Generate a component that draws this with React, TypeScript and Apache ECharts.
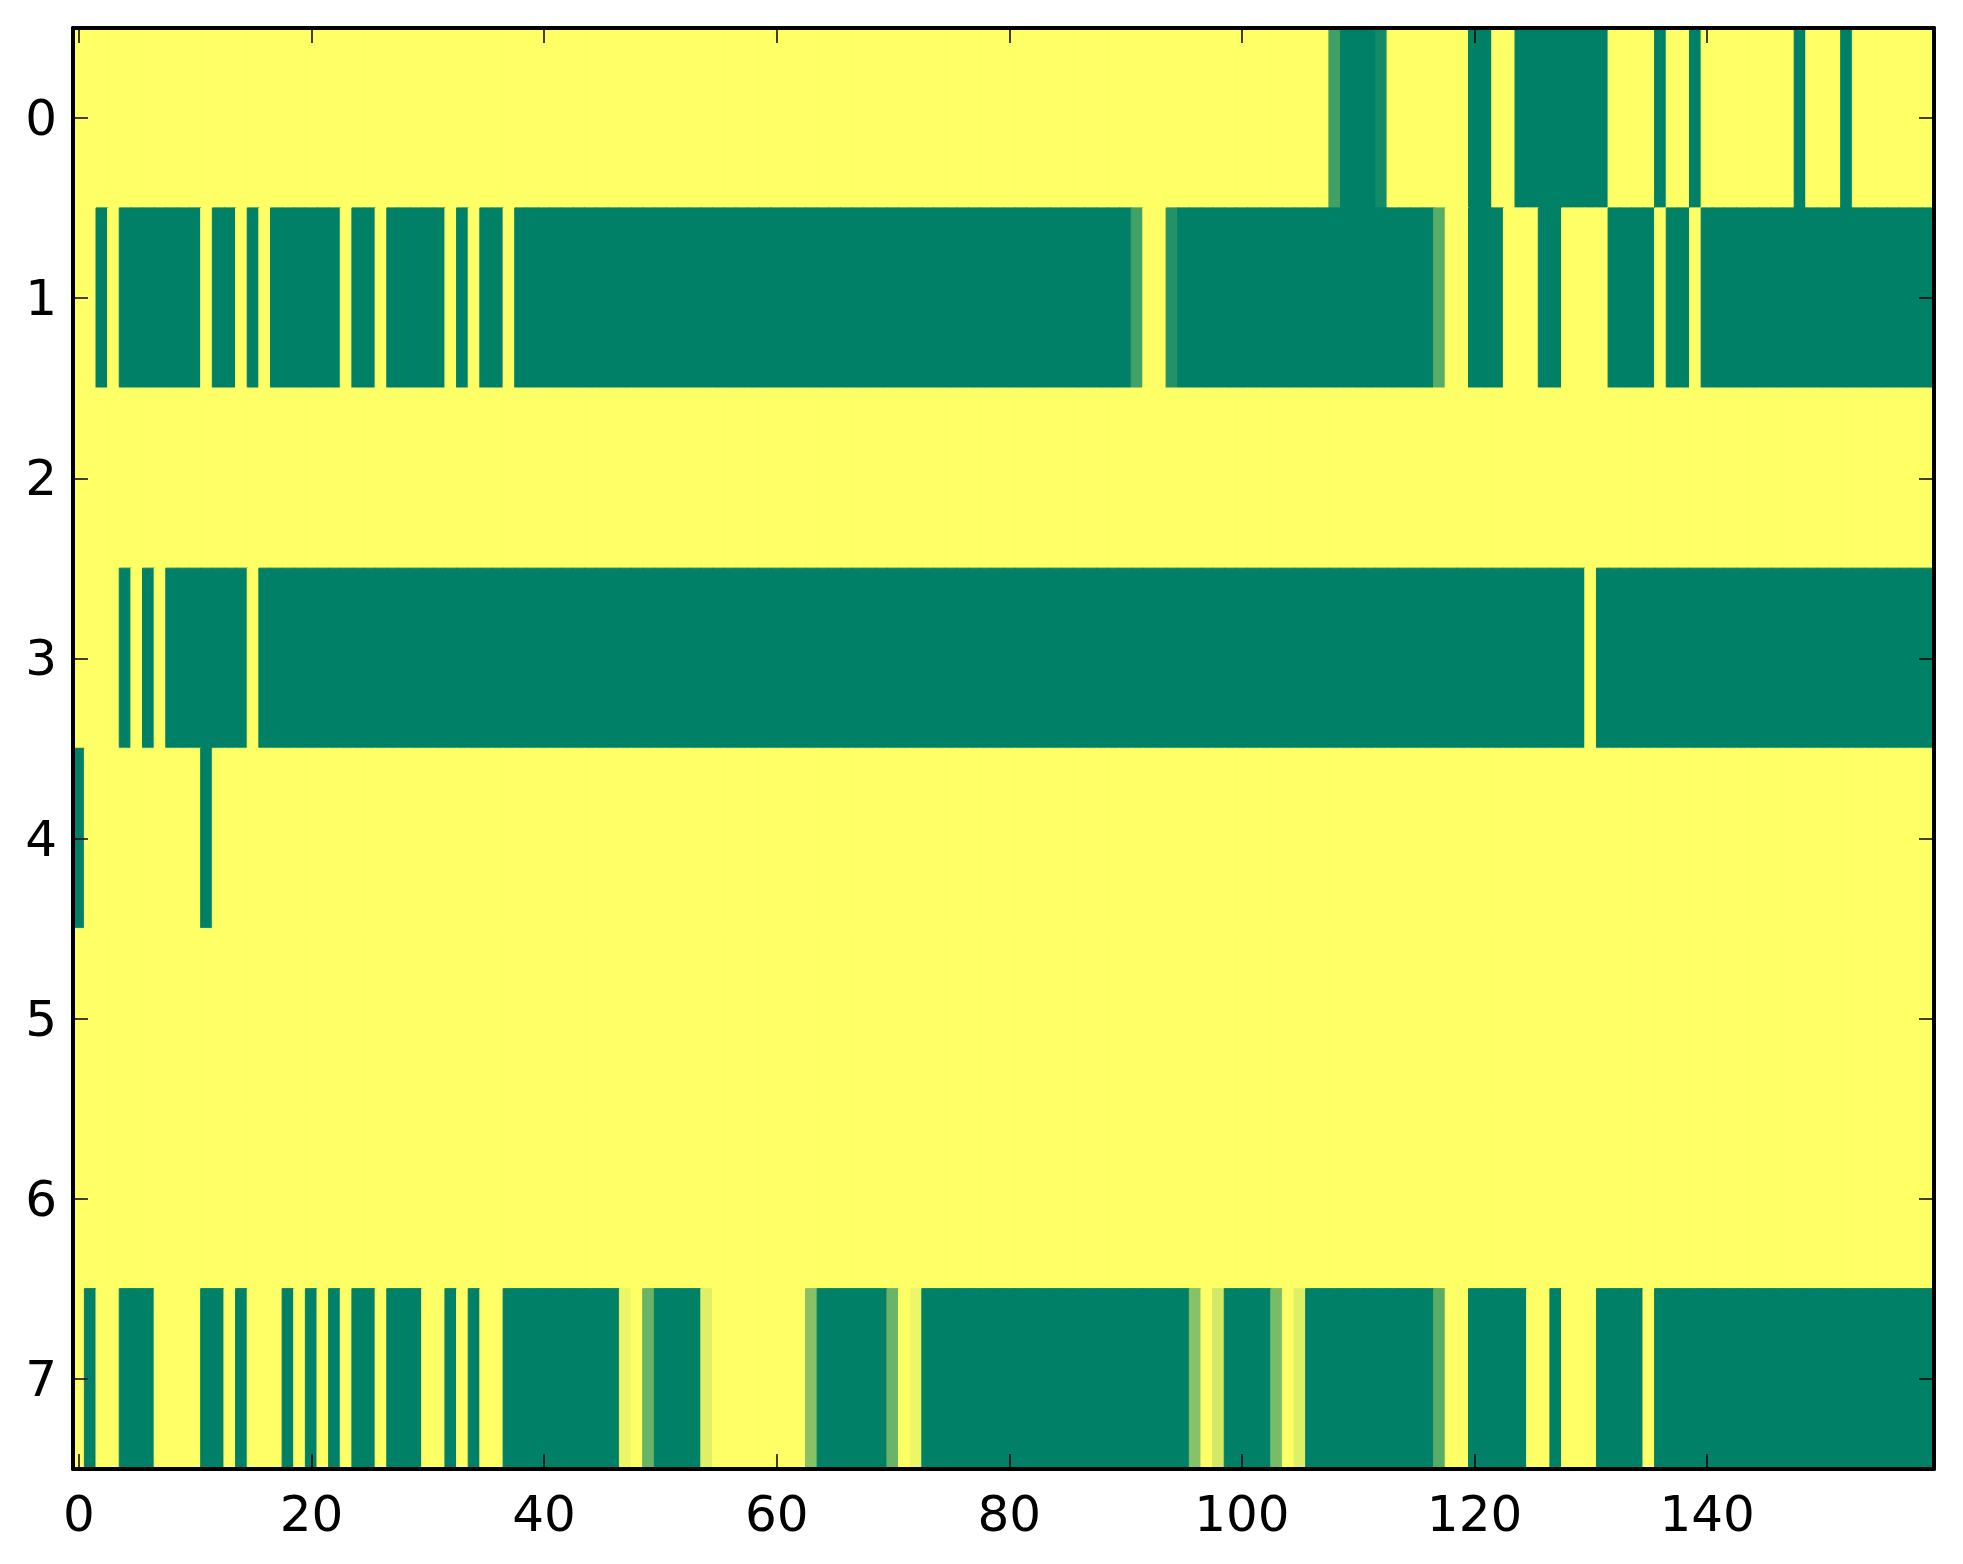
import React, { useEffect, useRef } from "react";
import * as echarts from "echarts";

// Column indices 0..159 and row indices 0..7
const columns: number[] = Array.from({ length: 160 }, (_, i) => i);
const rowLabels: string[] = ["0", "1", "2", "3", "4", "5", "6", "7"];
const xTickLabels: number[] = [0, 20, 40, 60, 80, 100, 120, 140];

const row0: number[] = [
  1, 1, 1, 1, 1, 1, 1, 1, 1, 1, 1, 1, 1, 1, 1, 1, 1, 1, 1, 1,
  1, 1, 1, 1, 1, 1, 1, 1, 1, 1, 1, 1, 1, 1, 1, 1, 1, 1, 1, 1,
  1, 1, 1, 1, 1, 1, 1, 1, 1, 1, 1, 1, 1, 1, 1, 1, 1, 1, 1, 1,
  1, 1, 1, 1, 1, 1, 1, 1, 1, 1, 1, 1, 1, 1, 1, 1, 1, 1, 1, 1,
  1, 1, 1, 1, 1, 1, 1, 1, 1, 1, 1, 1, 1, 1, 1, 1, 1, 1, 1, 1,
  1, 1, 1, 1, 1, 1, 1, 1, 0.25, 0, 0, 0, 0.08, 1, 1, 1, 1, 1, 1, 1,
  0, 0, 1, 1, 0, 0, 0, 0, 0, 0, 0, 0, 1, 1, 1, 1, 0, 1, 1, 0,
  1, 1, 1, 1, 1, 1, 1, 1, 0, 1, 1, 1, 0, 1, 1, 1, 1, 1, 1, 1,
];

const row1: number[] = [
  1, 1, 0, 1, 0, 0, 0, 0, 0, 0, 0, 1, 0, 0, 1, 0, 1, 0, 0, 0,
  0, 0, 0, 1, 0, 0, 1, 0, 0, 0, 0, 0, 1, 0, 1, 0, 0, 1, 0, 0,
  0, 0, 0, 0, 0, 0, 0, 0, 0, 0, 0, 0, 0, 0, 0, 0, 0, 0, 0, 0,
  0, 0, 0, 0, 0, 0, 0, 0, 0, 0, 0, 0, 0, 0, 0, 0, 0, 0, 0, 0,
  0, 0, 0, 0, 0, 0, 0, 0, 0, 0, 0, 0.25, 1, 1, 0.14, 0, 0, 0, 0, 0,
  0, 0, 0, 0, 0, 0, 0, 0, 0, 0, 0, 0, 0, 0, 0, 0, 0, 0.35, 1, 1,
  0, 0, 0, 1, 1, 1, 0, 0, 1, 1, 1, 1, 0, 0, 0, 0, 1, 0, 0, 1,
  0, 0, 0, 0, 0, 0, 0, 0, 0, 0, 0, 0, 0, 0, 0, 0, 0, 0, 0, 0,
];

const row2: number[] = [
  1, 1, 1, 1, 1, 1, 1, 1, 1, 1, 1, 1, 1, 1, 1, 1, 1, 1, 1, 1,
  1, 1, 1, 1, 1, 1, 1, 1, 1, 1, 1, 1, 1, 1, 1, 1, 1, 1, 1, 1,
  1, 1, 1, 1, 1, 1, 1, 1, 1, 1, 1, 1, 1, 1, 1, 1, 1, 1, 1, 1,
  1, 1, 1, 1, 1, 1, 1, 1, 1, 1, 1, 1, 1, 1, 1, 1, 1, 1, 1, 1,
  1, 1, 1, 1, 1, 1, 1, 1, 1, 1, 1, 1, 1, 1, 1, 1, 1, 1, 1, 1,
  1, 1, 1, 1, 1, 1, 1, 1, 1, 1, 1, 1, 1, 1, 1, 1, 1, 1, 1, 1,
  1, 1, 1, 1, 1, 1, 1, 1, 1, 1, 1, 1, 1, 1, 1, 1, 1, 1, 1, 1,
  1, 1, 1, 1, 1, 1, 1, 1, 1, 1, 1, 1, 1, 1, 1, 1, 1, 1, 1, 1,
];

const row3: number[] = [
  1, 1, 1, 1, 0, 1, 0, 1, 0, 0, 0, 0, 0, 0, 0, 1, 0, 0, 0, 0,
  0, 0, 0, 0, 0, 0, 0, 0, 0, 0, 0, 0, 0, 0, 0, 0, 0, 0, 0, 0,
  0, 0, 0, 0, 0, 0, 0, 0, 0, 0, 0, 0, 0, 0, 0, 0, 0, 0, 0, 0,
  0, 0, 0, 0, 0, 0, 0, 0, 0, 0, 0, 0, 0, 0, 0, 0, 0, 0, 0, 0,
  0, 0, 0, 0, 0, 0, 0, 0, 0, 0, 0, 0, 0, 0, 0, 0, 0, 0, 0, 0,
  0, 0, 0, 0, 0, 0, 0, 0, 0, 0, 0, 0, 0, 0, 0, 0, 0, 0, 0, 0,
  0, 0, 0, 0, 0, 0, 0, 0, 0, 0, 1, 0, 0, 0, 0, 0, 0, 0, 0, 0,
  0, 0, 0, 0, 0, 0, 0, 0, 0, 0, 0, 0, 0, 0, 0, 0, 0, 0, 0, 0,
];

const row4: number[] = [
  0, 1, 1, 1, 1, 1, 1, 1, 1, 1, 1, 0, 1, 1, 1, 1, 1, 1, 1, 1,
  1, 1, 1, 1, 1, 1, 1, 1, 1, 1, 1, 1, 1, 1, 1, 1, 1, 1, 1, 1,
  1, 1, 1, 1, 1, 1, 1, 1, 1, 1, 1, 1, 1, 1, 1, 1, 1, 1, 1, 1,
  1, 1, 1, 1, 1, 1, 1, 1, 1, 1, 1, 1, 1, 1, 1, 1, 1, 1, 1, 1,
  1, 1, 1, 1, 1, 1, 1, 1, 1, 1, 1, 1, 1, 1, 1, 1, 1, 1, 1, 1,
  1, 1, 1, 1, 1, 1, 1, 1, 1, 1, 1, 1, 1, 1, 1, 1, 1, 1, 1, 1,
  1, 1, 1, 1, 1, 1, 1, 1, 1, 1, 1, 1, 1, 1, 1, 1, 1, 1, 1, 1,
  1, 1, 1, 1, 1, 1, 1, 1, 1, 1, 1, 1, 1, 1, 1, 1, 1, 1, 1, 1,
];

const row5: number[] = [
  1, 1, 1, 1, 1, 1, 1, 1, 1, 1, 1, 1, 1, 1, 1, 1, 1, 1, 1, 1,
  1, 1, 1, 1, 1, 1, 1, 1, 1, 1, 1, 1, 1, 1, 1, 1, 1, 1, 1, 1,
  1, 1, 1, 1, 1, 1, 1, 1, 1, 1, 1, 1, 1, 1, 1, 1, 1, 1, 1, 1,
  1, 1, 1, 1, 1, 1, 1, 1, 1, 1, 1, 1, 1, 1, 1, 1, 1, 1, 1, 1,
  1, 1, 1, 1, 1, 1, 1, 1, 1, 1, 1, 1, 1, 1, 1, 1, 1, 1, 1, 1,
  1, 1, 1, 1, 1, 1, 1, 1, 1, 1, 1, 1, 1, 1, 1, 1, 1, 1, 1, 1,
  1, 1, 1, 1, 1, 1, 1, 1, 1, 1, 1, 1, 1, 1, 1, 1, 1, 1, 1, 1,
  1, 1, 1, 1, 1, 1, 1, 1, 1, 1, 1, 1, 1, 1, 1, 1, 1, 1, 1, 1,
];

const row6: number[] = [
  1, 1, 1, 1, 1, 1, 1, 1, 1, 1, 1, 1, 1, 1, 1, 1, 1, 1, 1, 1,
  1, 1, 1, 1, 1, 1, 1, 1, 1, 1, 1, 1, 1, 1, 1, 1, 1, 1, 1, 1,
  1, 1, 1, 1, 1, 1, 1, 1, 1, 1, 1, 1, 1, 1, 1, 1, 1, 1, 1, 1,
  1, 1, 1, 1, 1, 1, 1, 1, 1, 1, 1, 1, 1, 1, 1, 1, 1, 1, 1, 1,
  1, 1, 1, 1, 1, 1, 1, 1, 1, 1, 1, 1, 1, 1, 1, 1, 1, 1, 1, 1,
  1, 1, 1, 1, 1, 1, 1, 1, 1, 1, 1, 1, 1, 1, 1, 1, 1, 1, 1, 1,
  1, 1, 1, 1, 1, 1, 1, 1, 1, 1, 1, 1, 1, 1, 1, 1, 1, 1, 1, 1,
  1, 1, 1, 1, 1, 1, 1, 1, 1, 1, 1, 1, 1, 1, 1, 1, 1, 1, 1, 1,
];

const row7: number[] = [
  1, 0, 1, 1, 0, 0, 0, 1, 1, 1, 1, 0, 0, 1, 0, 1, 1, 1, 0, 1,
  0, 1, 0, 1, 0, 0, 1, 0, 0, 0, 1, 1, 0, 1, 0, 1, 1, 0, 0, 0,
  0, 0, 0, 0, 0, 0, 0, 0.93, 1, 0.41, 0, 0, 0, 0, 0.88, 1, 1, 1, 1, 1,
  1, 1, 1, 0.53, 0, 0, 0, 0, 0, 0, 0.41, 1, 0.93, 0, 0, 0, 0, 0, 0, 0,
  0, 0, 0, 0, 0, 0, 0, 0, 0, 0, 0, 0, 0, 0, 0, 0, 0.53, 1, 0.83, 0,
  0, 0, 0, 0.47, 1, 0.88, 0, 0, 0, 0, 0, 0, 0, 0, 0, 0, 0, 0.35, 1, 1,
  0, 0, 0, 0, 0, 1, 1, 0, 1, 1, 1, 0, 0, 0, 0, 1, 0, 0, 0, 0,
  0, 0, 0, 0, 0, 0, 0, 0, 0, 0, 0, 0, 0, 0, 0, 0, 0, 0, 0, 0,
];

const rows: number[][] = [row0, row1, row2, row3, row4, row5, row6, row7];

const FONT = "DejaVu Sans";

// matplotlib "summer" colormap: r = v, g = 0.5 + 0.5 v, b = 0.4
function summer(v: number): string {
  const r = Math.round(255 * v);
  const g = Math.round(255 * (0.5 + 0.5 * v));
  const b = Math.round(255 * 0.4);
  return `rgb(${r},${g},${b})`;
}

export default function App() {
  const ref = useRef<HTMLDivElement>(null);

  useEffect(() => {
    if (!ref.current) return;
    const chart = echarts.init(ref.current, undefined, { renderer: "svg" });

    const data: any[] = [];
    rows.forEach((r, y) =>
      r.forEach((v, x) =>
        data.push({
          value: [x, y, v],
          itemStyle: { borderColor: summer(v), borderWidth: 1 },
        })
      )
    );

    const showX = (i: number) => xTickLabels.includes(i);
    const xCats = columns.map(String);

    const lineStyle = { color: "#000", width: 4 };
    const tickStyle = { color: "#000", width: 1.5 };

    const baseX = {
      type: "category" as const,
      data: xCats,
      z: 10,
      axisLine: { show: true, onZero: false, lineStyle },
      splitLine: { show: false },
    };
    const baseY = {
      type: "category" as const,
      data: rowLabels,
      inverse: true,
      z: 10,
      axisLine: { show: true, onZero: false, lineStyle },
      splitLine: { show: false },
    };

    chart.setOption({
      animation: false,
      backgroundColor: "#ffffff",
      grid: { left: 73, top: 28, width: 1861, height: 1441, containLabel: false },
      xAxis: [
        {
          ...baseX,
          position: "bottom",
          axisTick: {
            show: true,
            inside: true,
            length: 15,
            alignWithLabel: true,
            interval: (i: number) => showX(i),
            lineStyle: tickStyle,
          },
          axisLabel: {
            show: true,
            interval: (i: number) => showX(i),
            fontSize: 50,
            fontFamily: FONT,
            color: "#000",
            margin: 20,
          },
        },
        {
          ...baseX,
          position: "top",
          axisTick: {
            show: true,
            inside: true,
            length: 15,
            alignWithLabel: true,
            interval: (i: number) => showX(i),
            lineStyle: tickStyle,
          },
          axisLabel: { show: false },
        },
      ],
      yAxis: [
        {
          ...baseY,
          position: "left",
          axisTick: {
            show: true,
            inside: true,
            length: 15,
            alignWithLabel: true,
            interval: 0,
            lineStyle: tickStyle,
          },
          axisLabel: {
            show: true,
            interval: 0,
            fontSize: 50,
            fontFamily: FONT,
            color: "#000",
            margin: 16,
          },
        },
        {
          ...baseY,
          position: "right",
          axisTick: {
            show: true,
            inside: true,
            length: 15,
            alignWithLabel: true,
            interval: 0,
            lineStyle: tickStyle,
          },
          axisLabel: { show: false },
        },
      ],
      visualMap: {
        type: "continuous",
        show: false,
        min: 0,
        max: 1,
        dimension: 2,
        seriesIndex: 0,
        inRange: { color: ["#008066", "#ffff66"] },
      },
      series: [
        {
          type: "heatmap",
          xAxisIndex: 0,
          yAxisIndex: 0,
          data,
          z: 1,
          progressive: 0,
          emphasis: { disabled: true },
          label: { show: false },
        },
      ],
    });

    return () => chart.dispose();
  }, []);

  return (
    <div
      ref={ref}
      style={{ position: "absolute", left: 0, top: 0, width: 1963, height: 1564 }}
    />
  );
}
